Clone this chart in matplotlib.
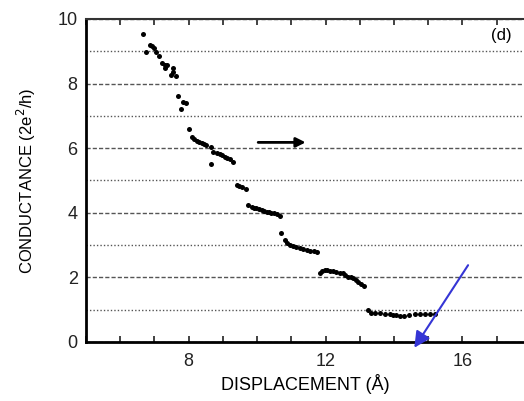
import matplotlib.pyplot as plt
import numpy as np

plt.rcParams['font.family'] = ['Liberation Sans', 'DejaVu Sans']

# conductance trace
displacement = [6.67, 6.75, 6.87, 6.92, 6.99, 7.06, 7.14, 7.21, 7.31, 7.37, 7.31, 7.53,
                7.55, 7.47, 7.63, 7.70, 7.84, 7.92, 7.77, 8.02, 8.09, 8.16, 8.23, 8.30,
                8.38, 8.45, 8.52, 8.64, 8.72, 8.82, 8.91, 8.98, 9.06, 9.13, 9.20, 9.30,
                8.65, 9.40, 9.48, 9.55, 9.67, 9.74, 9.84, 9.91, 9.98, 10.05, 10.13, 10.20,
                10.28, 10.35, 10.42, 10.50, 10.57, 10.66, 10.71, 10.81, 10.88, 10.96,
                11.05, 11.15, 11.25, 11.35, 11.45, 11.54, 11.65, 11.75, 11.83, 11.90,
                11.98, 12.05, 12.12, 12.22, 12.32, 12.42, 12.51, 12.58, 12.66, 12.73,
                12.80, 12.88, 12.95, 13.03, 13.12, 13.24, 13.34, 13.46, 13.58, 13.73,
                13.88, 13.98, 14.07, 14.17, 14.30, 14.45, 14.60, 14.75, 14.90, 15.05, 15.20]
conductance = [9.53, 8.99, 9.19, 9.16, 9.09, 8.99, 8.85, 8.63, 8.58, 8.58, 8.47, 8.47,
               8.37, 8.27, 8.24, 7.62, 7.44, 7.39, 7.20, 6.58, 6.36, 6.30, 6.23, 6.20,
               6.17, 6.13, 6.10, 6.05, 5.89, 5.86, 5.82, 5.78, 5.74, 5.70, 5.66, 5.58,
               5.51, 4.86, 4.82, 4.79, 4.74, 4.24, 4.17, 4.15, 4.14, 4.11, 4.09, 4.06,
               4.03, 4.01, 4.00, 3.98, 3.96, 3.90, 3.36, 3.16, 3.06, 3.00, 2.96, 2.93,
               2.90, 2.87, 2.85, 2.83, 2.81, 2.80, 2.13, 2.20, 2.23, 2.22, 2.21, 2.20,
               2.18, 2.15, 2.13, 2.08, 2.02, 2.00, 1.97, 1.92, 1.87, 1.80, 1.73, 0.99,
               0.91, 0.90, 0.89, 0.88, 0.87, 0.85, 0.84, 0.80, 0.82, 0.85, 0.86, 0.87,
               0.88, 0.88, 0.88]

fig = plt.figure(figsize=(5.24, 4.01), dpi=100)
ax = fig.add_axes([86/524, 59/401, 1 - 86/524, 323/401])

ax.plot(displacement, conductance, 'o', color='black', markersize=3.6, markeredgewidth=0)

ax.set_xlim(5, 17.8)
ax.set_ylim(0, 10)
ax.set_xticks([8, 12, 16])
ax.set_xticks(np.arange(5, 18), minor=True)
ax.set_yticks([0, 2, 4, 6, 8, 10])
ax.set_yticks([1, 3, 5, 7, 9], minor=True)

# horizontal guide lines
ax.grid(axis='y', which='major', color='#555555', linestyle=(0, (3, 1.5)), linewidth=1.0)
ax.grid(axis='y', which='minor', color='#555555', linestyle=(0, (1, 1.5)), linewidth=1.0)
ax.set_axisbelow(True)

ax.tick_params(axis='x', which='both', direction='in', top=True, length=4, width=1.2,
               labelsize=13, pad=8, colors='#222222')
ax.tick_params(axis='y', which='both', direction='in', length=0, labelsize=13, pad=6,
               colors='#222222')

ax.spines['right'].set_visible(False)
ax.spines['left'].set_linewidth(2)
ax.spines['bottom'].set_linewidth(2)
ax.spines['top'].set_linewidth(1.5)
ax.spines['top'].set_color('#333333')

ax.set_xlabel('DISPLACEMENT (Å)', fontsize=13, labelpad=3)
ax.set_ylabel('CONDUCTANCE (2e$^2$/h)', fontsize=12, labelpad=14)

ax.annotate('', xy=(11.5, 6.18), xytext=(9.95, 6.18),
            arrowprops=dict(arrowstyle='-|>', color='black', lw=2, mutation_scale=14))
ax.text(17.15, 9.5, '(d)', fontsize=12, ha='center', va='center')

ax.annotate('', xy=(14.55, -0.25), xytext=(16.21, 2.45), annotation_clip=False,
            arrowprops=dict(arrowstyle='-|>', color='#3535d5', lw=1.5, mutation_scale=24))

fig.savefig('out.png', dpi=100)
